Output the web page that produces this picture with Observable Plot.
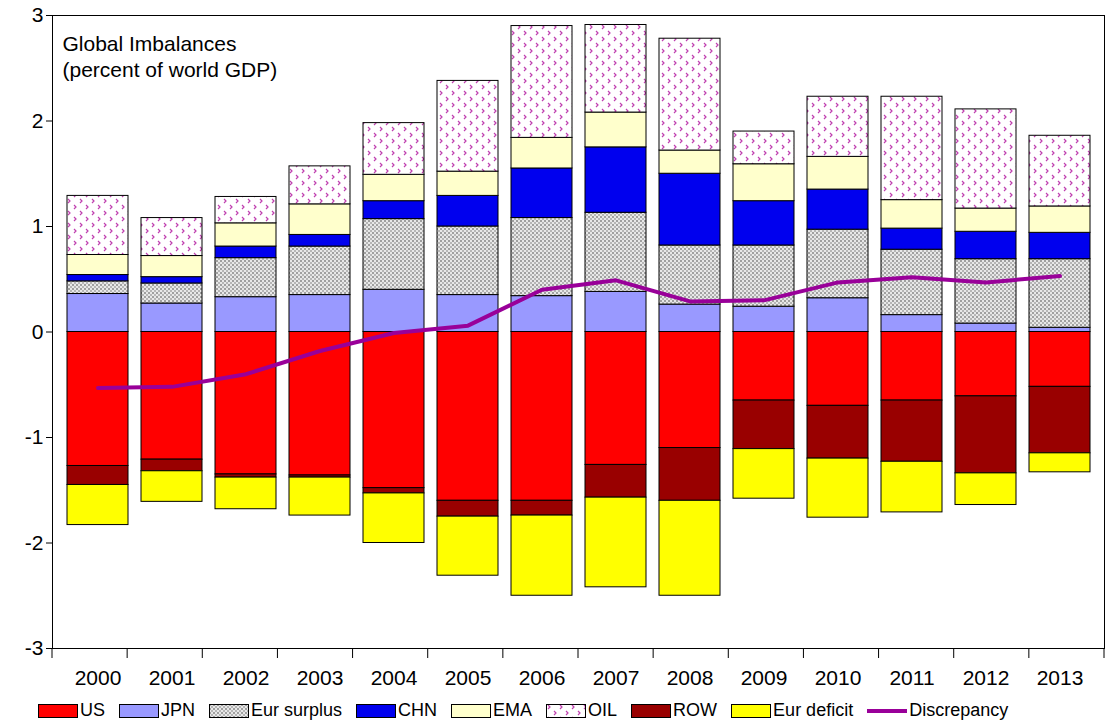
<!DOCTYPE html>
<html><head><meta charset="utf-8">
<script src="https://cdn.jsdelivr.net/npm/d3@7"></script>
<script src="https://cdn.jsdelivr.net/npm/@observablehq/plot@0.6"></script>
<style>
body{margin:0;background:#fff;font-family:"Liberation Sans",Arial,sans-serif}
#legend{display:flex;gap:0;margin-left:38px;font-size:18px;margin-top:0}
#legend div{display:flex;align-items:center;margin-right:14px}
#legend svg{margin-right:2px}
</style></head><body>
<svg width="0" height="0" style="position:absolute">
<defs>
<pattern id="dots" width="4" height="4" patternUnits="userSpaceOnUse">
<rect width="4" height="4" fill="#e8e8e8"/><circle cx="1" cy="1" r="0.8" fill="#444"/><circle cx="3" cy="3" r="0.8" fill="#777"/>
</pattern>
<pattern id="oil" width="12" height="12" patternUnits="userSpaceOnUse">
<rect width="12" height="12" fill="#fff"/>
<path d="M2,1 l2,2 l-2,2 M8,7 l2,2 l-2,2" stroke="#c040b0" stroke-width="1.2" fill="none"/>
</pattern>
</defs></svg>
<div id="chart"></div>
<div id="legend"></div>
<script>
const years = ["2000","2001","2002","2003","2004","2005","2006","2007","2008","2009","2010","2011","2012","2013"];
const US = [-1.27,-1.21,-1.35,-1.36,-1.48,-1.60,-1.60,-1.26,-1.10,-0.65,-0.70,-0.65,-0.61,-0.52];
const JPN = [.36,.27,.33,.35,.40,.35,.34,.38,.26,.24,.32,.16,.08,.04];
const EurSurplus = [.12,.19,.37,.46,.67,.65,.74,.75,.56,.58,.65,.62,.61,.65];
const CHN = [.06,.06,.11,.11,.17,.29,.47,.62,.68,.42,.38,.20,.26,.25];
const EMA = [.19,.20,.22,.29,.25,.23,.29,.33,.22,.35,.31,.27,.22,.25];
const OIL = [.56,.36,.25,.36,.49,.86,1.06,.83,1.06,.31,.57,.98,.94,.67];
const ROW = [-.18,-.11,-.03,-.02,-.05,-.15,-.14,-.31,-.50,-.46,-.50,-.58,-.73,-.63];
const EurDeficit = [-.38,-.29,-.30,-.36,-.47,-.56,-.76,-.85,-.90,-.47,-.56,-.48,-.30,-.18];
const discrepancy = [-0.53,-0.52,-0.40,-0.18,-0.01,0.06,0.40,0.49,0.29,0.30,0.47,0.52,0.47,0.53];

const series = [
  ["US", US, "#ff0000"], ["JPN", JPN, "#9999ff"], ["Eur surplus", EurSurplus, "url(#dots)"],
  ["CHN", CHN, "#0000ee"], ["EMA", EMA, "#ffffcc"], ["OIL", OIL, "url(#oil)"],
  ["ROW", ROW, "#990000"], ["Eur deficit", EurDeficit, "#ffff00"]
];
const rows = [];
series.forEach(([name, vals]) => vals.forEach((v, i) => rows.push({year: years[i], name, value: v})));
const line = years.map((y, i) => ({year: y, value: discrepancy[i]}));

const W = 1106, H = 700, ML = 52, MR = 2;
const chart = Plot.plot({
  width: W, height: H, marginLeft: ML, marginRight: MR, marginTop: 15, marginBottom: 52,
  style: {fontFamily: "Liberation Sans, Arial, sans-serif", fontSize: "21px", color: "#000"},
  x: {domain: years, label: null, padding: 0.18, tickSize: 0, tickPadding: 22},
  y: {domain: [-3, 3], ticks: [-3,-2,-1,0,1,2,3], tickFormat: d => String(d), label: null, tickSize: 6},
  color: {domain: series.map(s => s[0]), range: series.map(s => s[2])},
  marks: [
    Plot.barY(rows, Plot.stackY({x: "year", y: "value", fill: "name", stroke: "#000", strokeWidth: 1})),
    Plot.line(line, {x: "year", y: "value", stroke: "#990099", strokeWidth: 4}),
    Plot.frame({stroke: "#000"}),
    Plot.text(["Global Imbalances\n(percent of world GDP)"], {frameAnchor: "top-left", dx: 10, dy: 18, textAnchor: "start", lineAnchor: "top", fontSize: 21, lineHeight: 1.2})
  ]
});
// category separator ticks below the axis
const step = (W - ML - MR) / years.length;
const svg = d3.select(chart);
for (let i = 0; i <= years.length; i++) {
  svg.append("line").attr("x1", ML + i * step).attr("x2", ML + i * step)
    .attr("y1", H - 52).attr("y2", H - 42).attr("stroke", "#000");
}
document.getElementById("chart").append(chart);

const lg = d3.select("#legend");
series.forEach(([name, , fill]) => {
  const d = lg.append("div");
  const s = d.append("svg").attr("width", 40).attr("height", 14);
  s.append("rect").attr("x", 0.5).attr("y", 0.5).attr("width", 39).attr("height", 13).attr("fill", fill).attr("stroke", "#000");
  d.append("span").text(name);
});
const d = lg.append("div");
d.append("svg").attr("width", 40).attr("height", 14).append("line")
  .attr("x1", 0).attr("x2", 40).attr("y1", 7).attr("y2", 7).attr("stroke", "#990099").attr("stroke-width", 4);
d.append("span").text("Discrepancy");
</script>
</body></html>
